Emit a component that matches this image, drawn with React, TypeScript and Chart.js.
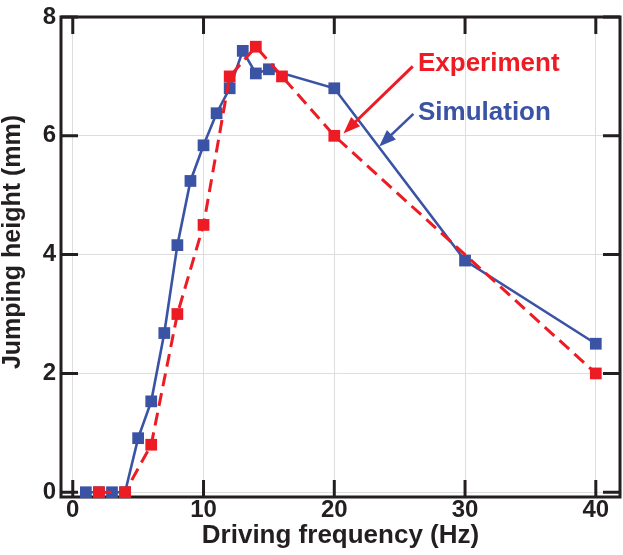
import React, { useEffect, useRef } from "react";
import { Chart, registerables } from "chart.js";

Chart.register(...registerables);

// ---- data ----
const simFreq = [1, 2, 3, 4, 5, 6, 7, 8, 9, 10, 11, 12, 13, 14, 15, 20, 30, 40];
const simHeight = [0, 0, 0, 0, 0.91, 1.53, 2.68, 4.16, 5.24, 5.84, 6.38, 6.8, 7.43, 7.05, 7.12, 6.8, 3.9, 2.5];
const expFreq = [2, 4, 6, 8, 10, 12, 14, 16, 20, 40];
const expHeight = [0, 0, 0.8, 3.0, 4.5, 7.0, 7.5, 7.0, 6.0, 2.0];
const xTicks = [0, 10, 20, 30, 40];
const yTicks = [0, 2, 4, 6, 8];

const xTitle = "Driving frequency (Hz)";
const yTitle = "Jumping height (mm)";
const expLabel = "Experiment";
const simLabel = "Simulation";

// annotation anchors in data coordinates
const expArrow = { from: [26.0, 7.17], to: [20.7, 6.04], text: [26.4, 7.09] };
const simArrow = { from: [26.05, 6.37], to: [23.43, 5.82], text: [26.4, 6.27] };

const RED = "#ED1C24";
const BLUE = "#3A53A4";
const INK = "#231F20";
const FONT = '"Liberation Sans", Arial, Helvetica, sans-serif';

const framePlugin = {
  id: "frame",
  beforeDatasetsDraw(chart: any) {
    const { ctx, chartArea: a, scales } = chart;
    const T = 17;
    ctx.save();
    ctx.strokeStyle = INK;
    ctx.lineWidth = 3;
    ctx.lineCap = "butt";
    ctx.beginPath();
    for (const v of xTicks) {
      const px = scales.x.getPixelForValue(v);
      ctx.moveTo(px, a.bottom);
      ctx.lineTo(px, a.bottom - T);
      ctx.moveTo(px, a.top);
      ctx.lineTo(px, a.top + T);
    }
    for (const v of yTicks) {
      const py = scales.y.getPixelForValue(v);
      ctx.moveTo(a.left, py);
      ctx.lineTo(a.left + T, py);
      ctx.moveTo(a.right, py);
      ctx.lineTo(a.right - T, py);
    }
    ctx.stroke();
    ctx.strokeRect(a.left, a.top, a.right - a.left, a.bottom - a.top);
    ctx.restore();
  },
};

// y-axis title drawn slightly above the plot's vertical middle, as in the reference
const yTitlePlugin = {
  id: "ytitle",
  afterDraw(chart: any) {
    const { ctx, chartArea: a } = chart;
    ctx.save();
    ctx.translate(13.5, (a.top + a.bottom) / 2 - 15);
    ctx.rotate(-Math.PI / 2);
    ctx.font = `bold 25px ${FONT}`;
    ctx.fillStyle = INK;
    ctx.textAlign = "center";
    ctx.textBaseline = "middle";
    ctx.fillText(yTitle, 0, 0);
    ctx.restore();
  },
};

function drawArrow(ctx: any, x1: number, y1: number, x2: number, y2: number, color: string, lw: number) {
  const ang = Math.atan2(y2 - y1, x2 - x1);
  const hl = 17;
  const hw = 6.5;
  const bx = x2 - hl * Math.cos(ang);
  const by = y2 - hl * Math.sin(ang);
  ctx.strokeStyle = color;
  ctx.fillStyle = color;
  ctx.lineWidth = lw;
  ctx.beginPath();
  ctx.moveTo(x1, y1);
  ctx.lineTo(bx + 2 * Math.cos(ang), by + 2 * Math.sin(ang));
  ctx.stroke();
  ctx.beginPath();
  ctx.moveTo(x2, y2);
  ctx.lineTo(bx + hw * Math.sin(ang), by - hw * Math.cos(ang));
  ctx.lineTo(bx - hw * Math.sin(ang), by + hw * Math.cos(ang));
  ctx.closePath();
  ctx.fill();
}

const annotationPlugin = {
  id: "annot",
  afterDatasetsDraw(chart: any) {
    const { ctx, scales } = chart;
    const X = (v: number) => scales.x.getPixelForValue(v);
    const Y = (v: number) => scales.y.getPixelForValue(v);
    ctx.save();
    drawArrow(ctx, X(expArrow.from[0]), Y(expArrow.from[1]), X(expArrow.to[0]), Y(expArrow.to[1]), RED, 3);
    drawArrow(ctx, X(simArrow.from[0]), Y(simArrow.from[1]), X(simArrow.to[0]), Y(simArrow.to[1]), BLUE, 2.6);
    ctx.font = `bold 26px ${FONT}`;
    ctx.textAlign = "left";
    ctx.textBaseline = "alphabetic";
    ctx.fillStyle = RED;
    ctx.fillText(expLabel, X(expArrow.text[0]), Y(expArrow.text[1]));
    ctx.fillStyle = BLUE;
    ctx.fillText(simLabel, X(simArrow.text[0]), Y(simArrow.text[1]));
    ctx.restore();
  },
};

export default function App() {
  const ref = useRef<HTMLCanvasElement | null>(null);

  useEffect(() => {
    if (!ref.current) return;
    const chart = new Chart(ref.current, {
      type: "line",
      data: {
        datasets: [
          {
            label: expLabel,
            data: expFreq.map((x, i) => ({ x, y: expHeight[i] })),
            borderColor: RED,
            backgroundColor: RED,
            borderWidth: 3,
            borderDash: [13, 7],
            pointStyle: "rect",
            pointRadius: 8.3,
            pointBorderWidth: 0,
            pointBackgroundColor: RED,
            tension: 0,
            fill: false,
            clip: false as any,
            order: 0,
          },
          {
            label: simLabel,
            data: simFreq.map((x, i) => ({ x, y: simHeight[i] })),
            borderColor: BLUE,
            backgroundColor: BLUE,
            borderWidth: 2.6,
            pointStyle: "rect",
            pointRadius: 8.3,
            pointBorderWidth: 0,
            pointBackgroundColor: BLUE,
            tension: 0,
            fill: false,
            clip: false as any,
            order: 1,
          },
        ],
      },
      options: {
        responsive: false,
        animation: false,
        devicePixelRatio: 1,
        layout: { autoPadding: false, padding: { top: 13, right: 3, left: 0, bottom: 0 } },
        plugins: {
          legend: { display: false },
          tooltip: { enabled: false },
        },
        scales: {
          x: {
            type: "linear",
            min: -0.9,
            max: 41.85,
            afterBuildTicks: (s: any) => {
              s.ticks = xTicks.map((v) => ({ value: v }));
            },
            afterFit: (s: any) => {
              s.height = 58;
            },
            grid: { color: "#dddddd", lineWidth: 1, drawTicks: false },
            border: { display: false },
            ticks: {
              padding: 0,
              color: INK,
              font: { family: FONT, size: 24, weight: "bold", lineHeight: 1.1 },
              maxRotation: 0,
            },
            title: {
              display: true,
              text: xTitle,
              color: INK,
              font: { family: FONT, size: 26, weight: "bold", lineHeight: 1 },
              padding: { top: 0, bottom: 6 },
            },
          },
          y: {
            type: "linear",
            min: -0.08,
            max: 8,
            afterBuildTicks: (s: any) => {
              s.ticks = yTicks.map((v) => ({ value: v }));
            },
            afterFit: (s: any) => {
              s.width = 61;
            },
            grid: { color: "#dddddd", lineWidth: 1, drawTicks: false },
            border: { display: false },
            ticks: {
              padding: 5,
              color: INK,
              font: { family: FONT, size: 24, weight: "bold", lineHeight: 1.0 },
            },
            title: { display: false, text: yTitle },
          },
        },
      },
      plugins: [framePlugin, annotationPlugin, yTitlePlugin],
    } as any);
    return () => chart.destroy();
  }, []);

  return (
    <div style={{ position: "fixed", left: 0, top: 0, width: 623, height: 555, background: "#fff" }}>
      <canvas ref={ref} width={623} height={555} style={{ width: 623, height: 555, display: "block" }} />
    </div>
  );
}
